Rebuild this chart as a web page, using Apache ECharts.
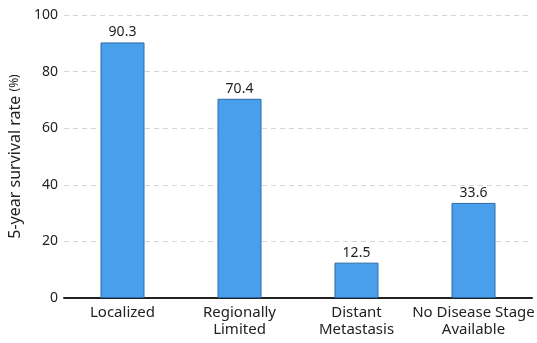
<!DOCTYPE html>
<html>
<head>
<meta charset="utf-8">
<script src="https://cdn.jsdelivr.net/npm/echarts@6/dist/echarts.min.js"></script>
<style>html,body{margin:0;padding:0;background:#fff}#c{width:537px;height:343px}</style>
</head>
<body>
<div id="c"></div>
<script>
const categories = ['Localized', 'Regionally\nLimited', 'Distant\nMetastasis', 'No Disease Stage\nAvailable'];
const survivalRates = [90.3, 70.4, 12.5, 33.6];
const yTicks = [0, 20, 40, 60, 80, 100];

const chart = echarts.init(document.getElementById('c'), null, {renderer: 'canvas'});
const font = '"Noto Sans", sans-serif';
chart.setOption({
  animation: false,
  grid: {left: 64, right: 5, top: 15, bottom: 45, containLabel: false, outerBoundsMode: 'none'},
  xAxis: {
    type: 'category',
    data: categories,
    axisLine: {show: true, lineStyle: {color: '#222', width: 2}},
    axisTick: {show: false},
    axisLabel: {color: '#222', fontSize: 15, fontFamily: font, margin: 6, lineHeight: 17, interval: 0}
  },
  yAxis: {
    type: 'value',
    min: yTicks[0],
    max: yTicks[yTicks.length - 1],
    interval: 20,
    name: '{a|5-year survival rate }{b|(%)}',
    nameLocation: 'middle',
    nameGap: 39,
    nameRotate: 90,
    nameTextStyle: {
      rich: {
        a: {fontSize: 16, color: '#222', fontFamily: font},
        b: {fontSize: 12, color: '#222', fontFamily: font}
      }
    },
    axisLine: {show: false},
    axisTick: {show: false},
    axisLabel: {color: '#222', fontSize: 14, fontFamily: font, margin: 6},
    splitLine: {lineStyle: {color: '#d6d6d6', type: [5, 4], width: 1}}
  },
  series: [{
    type: 'bar',
    data: survivalRates,
    barWidth: 44,
    itemStyle: {color: '#4a9fec', borderColor: '#2c6aa6', borderWidth: 1},
    label: {show: true, position: 'top', distance: 3, color: '#222', fontSize: 14, fontFamily: font}
  }]
});
</script>
</body>
</html>
